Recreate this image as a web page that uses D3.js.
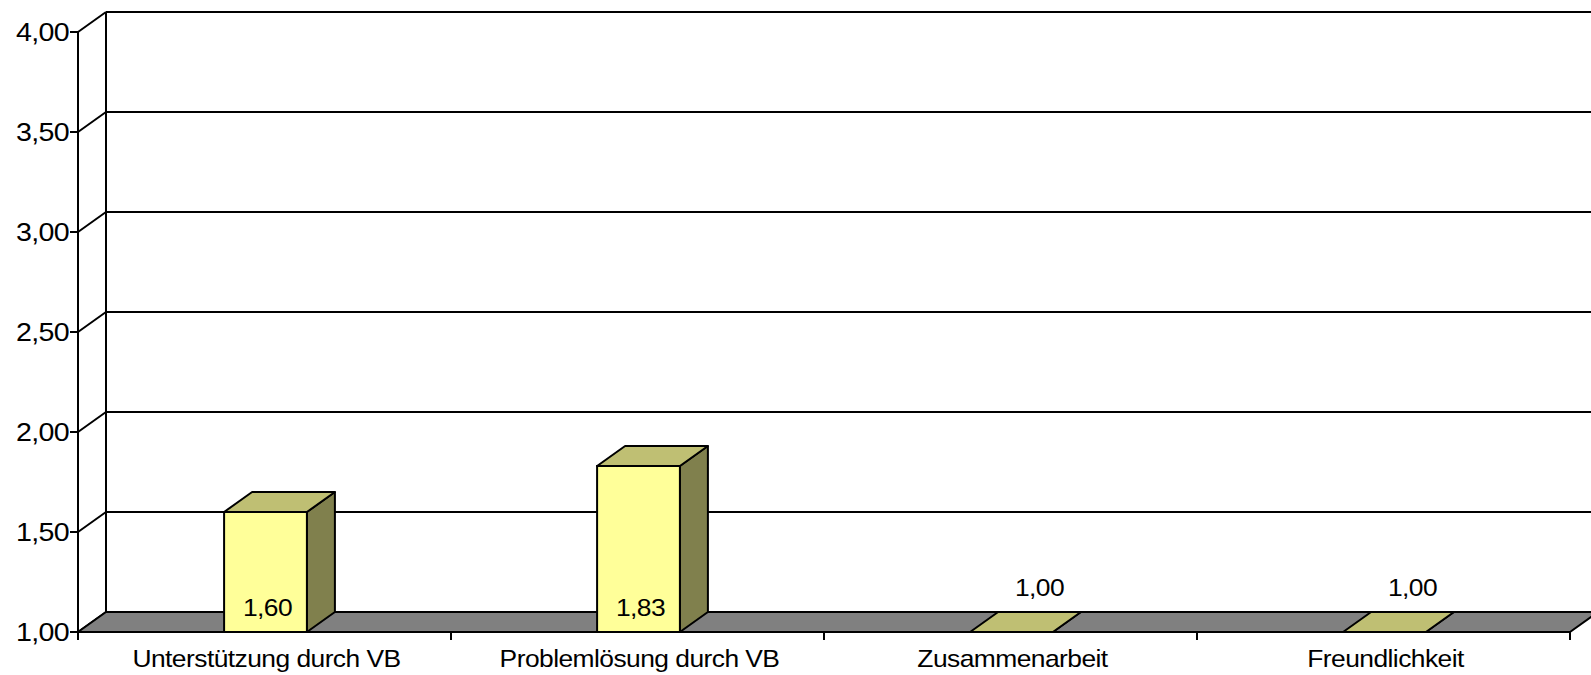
<!DOCTYPE html>
<html>
<head>
<meta charset="utf-8">
<script src="https://cdn.jsdelivr.net/npm/d3@7"></script>
<style>
  body { margin: 0; background: #fff; }
  text { font-family: "Liberation Sans", Arial, sans-serif; fill: #000; }
</style>
</head>
<body>
<svg id="chart"></svg>
<script>
const categories = ['Unterstützung durch VB', 'Problemlösung durch VB', 'Zusammenarbeit', 'Freundlichkeit']
const values = [1.60, 1.83, 1.00, 1.00]
const yTicks = [1.0, 1.5, 2.0, 2.5, 3.0, 3.5, 4.0]

const fmt = d => d.toFixed(2).replace('.', ',')

const svgWidth = 1591
const svgHeight = 675
const margin = { top: 32, right: 21, bottom: 43, left: 78 }
const depth = { dx: 28, dy: -20 }

const svg = d3.select('#chart')
  .attr('width', svgWidth)
  .attr('height', svgHeight)

const x = d3.scaleBand()
  .domain(categories)
  .range([margin.left, svgWidth - margin.right])
  .padding(0)

const y = d3.scaleLinear()
  .domain([1, 4])
  .range([svgHeight - margin.bottom, margin.top])

const x0 = x.range()[0]
const x1 = x.range()[1]
const base = y(1)
const barW = x.bandwidth() * 0.222

// back wall gridlines
svg.append('g')
  .selectAll('line')
  .data(yTicks.filter(d => d > 1))
  .join('line')
  .attr('x1', x0 + depth.dx)
  .attr('x2', x1 + depth.dx + 10)
  .attr('y1', d => y(d) + depth.dy)
  .attr('y2', d => y(d) + depth.dy)
  .attr('stroke', '#000')
  .attr('stroke-width', 2)

// side wall diagonals
svg.append('g')
  .selectAll('line')
  .data(yTicks)
  .join('line')
  .attr('x1', x0)
  .attr('y1', d => y(d))
  .attr('x2', x0 + depth.dx)
  .attr('y2', d => y(d) + depth.dy)
  .attr('stroke', '#000')
  .attr('stroke-width', 2)

// back wall left edge
svg.append('line')
  .attr('x1', x0 + depth.dx).attr('x2', x0 + depth.dx)
  .attr('y1', y(4) + depth.dy).attr('y2', base + depth.dy)
  .attr('stroke', '#000')
  .attr('stroke-width', 2)

// floor
svg.append('path')
  .attr('d', `M${x0},${base}L${x1},${base}L${x1 + depth.dx},${base + depth.dy}L${x0 + depth.dx},${base + depth.dy}Z`)
  .attr('fill', '#808080')
  .attr('stroke', '#000')
  .attr('stroke-width', 2)
  .attr('stroke-linejoin', 'round')

// Y axis
svg.append('line')
  .attr('x1', x0).attr('x2', x0)
  .attr('y1', y(4)).attr('y2', base + 8)
  .attr('stroke', '#000')
  .attr('stroke-width', 2)

const yAxis = svg.append('g')
yAxis.selectAll('line')
  .data(yTicks)
  .join('line')
  .attr('x1', x0 - 8).attr('x2', x0)
  .attr('y1', d => y(d)).attr('y2', d => y(d))
  .attr('stroke', '#000')
  .attr('stroke-width', 2)
yAxis.selectAll('text')
  .data(yTicks)
  .join('text')
  .attr('transform', d => `translate(${x0 - 9}, ${y(d) + 9}) scale(1.1, 1)`)
  .attr('text-anchor', 'end')
  .attr('font-size', 26)
  .attr('letter-spacing', -0.6)
  .text(fmt)

// X axis ticks and labels
const xAxis = svg.append('g')
xAxis.selectAll('line')
  .data(categories.map(c => x(c)).concat([x1]))
  .join('line')
  .attr('x1', d => d).attr('x2', d => d)
  .attr('y1', base).attr('y2', base + 8)
  .attr('stroke', '#000')
  .attr('stroke-width', 2)
xAxis.selectAll('text')
  .data(categories)
  .join('text')
  .attr('transform', d => `translate(${x(d) + x.bandwidth() / 2 + 2}, ${base + 35}) scale(1.1, 1)`)
  .attr('text-anchor', 'middle')
  .attr('font-size', 24)
  .attr('letter-spacing', -0.5)
  .text(d => d)

// bars
const bars = svg.append('g')
  .selectAll('g')
  .data(categories.map((c, i) => ({ cat: c, value: values[i] })))
  .join('g')

bars.each(function (d) {
  const g = d3.select(this)
  const left = x(d.cat) + (x.bandwidth() - barW) / 2 + 1
  const right = left + barW
  const top = y(d.value)
  const { dx, dy } = depth

  // side
  g.append('path')
    .attr('d', `M${right},${base}L${right},${top}L${right + dx},${top + dy}L${right + dx},${base + dy}Z`)
    .attr('fill', '#80804D')
    .attr('stroke', '#000').attr('stroke-width', 2).attr('stroke-linejoin', 'round')
  // top
  g.append('path')
    .attr('d', `M${left},${top}L${right},${top}L${right + dx},${top + dy}L${left + dx},${top + dy}Z`)
    .attr('fill', '#BFBF73')
    .attr('stroke', '#000').attr('stroke-width', 2).attr('stroke-linejoin', 'round')
  // front
  g.append('rect')
    .attr('x', left).attr('y', top)
    .attr('width', barW).attr('height', base - top)
    .attr('fill', '#FFFF99')
    .attr('stroke', '#000').attr('stroke-width', 2)

  // data label
  const flat = d.value <= 1
  const lx = flat ? left + barW / 2 + dx : left + barW / 2 + 2
  const ly = flat ? base + dy - 16 : base - 16
  g.append('text')
    .attr('transform', `translate(${lx}, ${ly}) scale(1.1, 1)`)
    .attr('text-anchor', 'middle')
    .attr('font-size', 24)
    .attr('letter-spacing', -0.5)
    .text(fmt(d.value))
})
</script>
</body>
</html>
